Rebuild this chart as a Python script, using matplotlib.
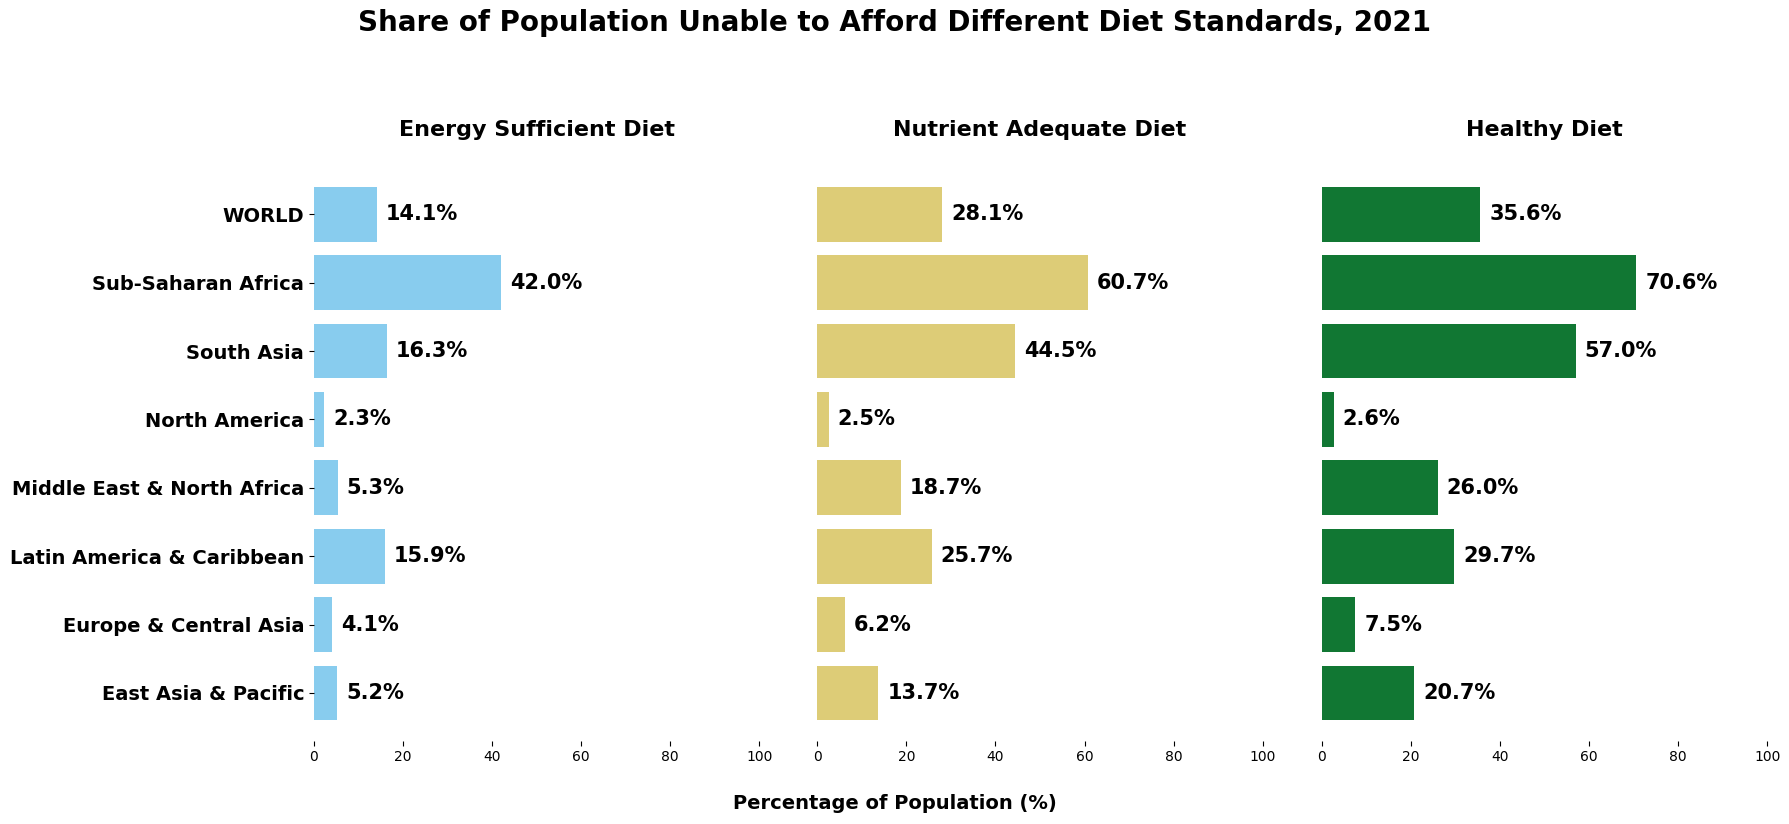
import numpy as np
import matplotlib
matplotlib.use("Agg")
from matplotlib import pyplot as plt

regions = ["East Asia & Pacific", "Europe & Central Asia", "Latin America & Caribbean",
           "Middle East & North Africa", "North America", "South Asia",
           "Sub-Saharan Africa", "WORLD"]
energy = [5.2, 4.1, 15.9, 5.3, 2.3, 16.3, 42.0, 14.1]
nutrient = [13.7, 6.2, 25.7, 18.7, 2.5, 44.5, 60.7, 28.1]
healthy = [20.7, 7.5, 29.7, 26.0, 2.6, 57.0, 70.6, 35.6]

panels = [("Energy Sufficient Diet", energy, "#88CCEE"),
          ("Nutrient Adequate Diet", nutrient, "#DDCC77"),
          ("Healthy Diet", healthy, "#117733")]

fig = plt.figure(figsize=(17.9, 8.24), dpi=100)
W, H = 1568, 722
lefts = [275 / W, 716 / W, 1158 / W]
y = np.arange(len(regions))

for i, (title, vals, color) in enumerate(panels):
    ax = fig.add_axes([lefts[i], 1 - 649 / H, 390 / W, 503 / H])
    ax.barh(y, vals, height=0.8, color=color)
    for yi, v in zip(y, vals):
        ax.text(v + 2, yi, f"{v:.1f}%", va="center", ha="left",
                fontsize=15, fontweight="bold")
    ax.set_xlim(0, 100)
    ax.set_ylim(-0.7, 7.7)
    ax.set_title(title, fontsize=16, fontweight="bold", pad=22)
    for s in ax.spines.values():
        s.set_visible(False)
    ax.set_yticks(y)
    if i == 0:
        ax.set_yticklabels(regions, fontsize=14, fontweight="bold")
    else:
        ax.set_yticklabels([])
        ax.tick_params(axis="y", length=0)
    ax.set_xticks(range(0, 101, 20))

fig.text(0.5, 1 - 704 / H, "Percentage of Population (%)", ha="center", va="center",
         fontsize=14, fontweight="bold")
fig.text(0.5, 1 - 20 / H, "Share of Population Unable to Afford Different Diet Standards, 2021",
         ha="center", va="center", fontsize=20, fontweight="bold")

fig.savefig("out.png", dpi=100)
